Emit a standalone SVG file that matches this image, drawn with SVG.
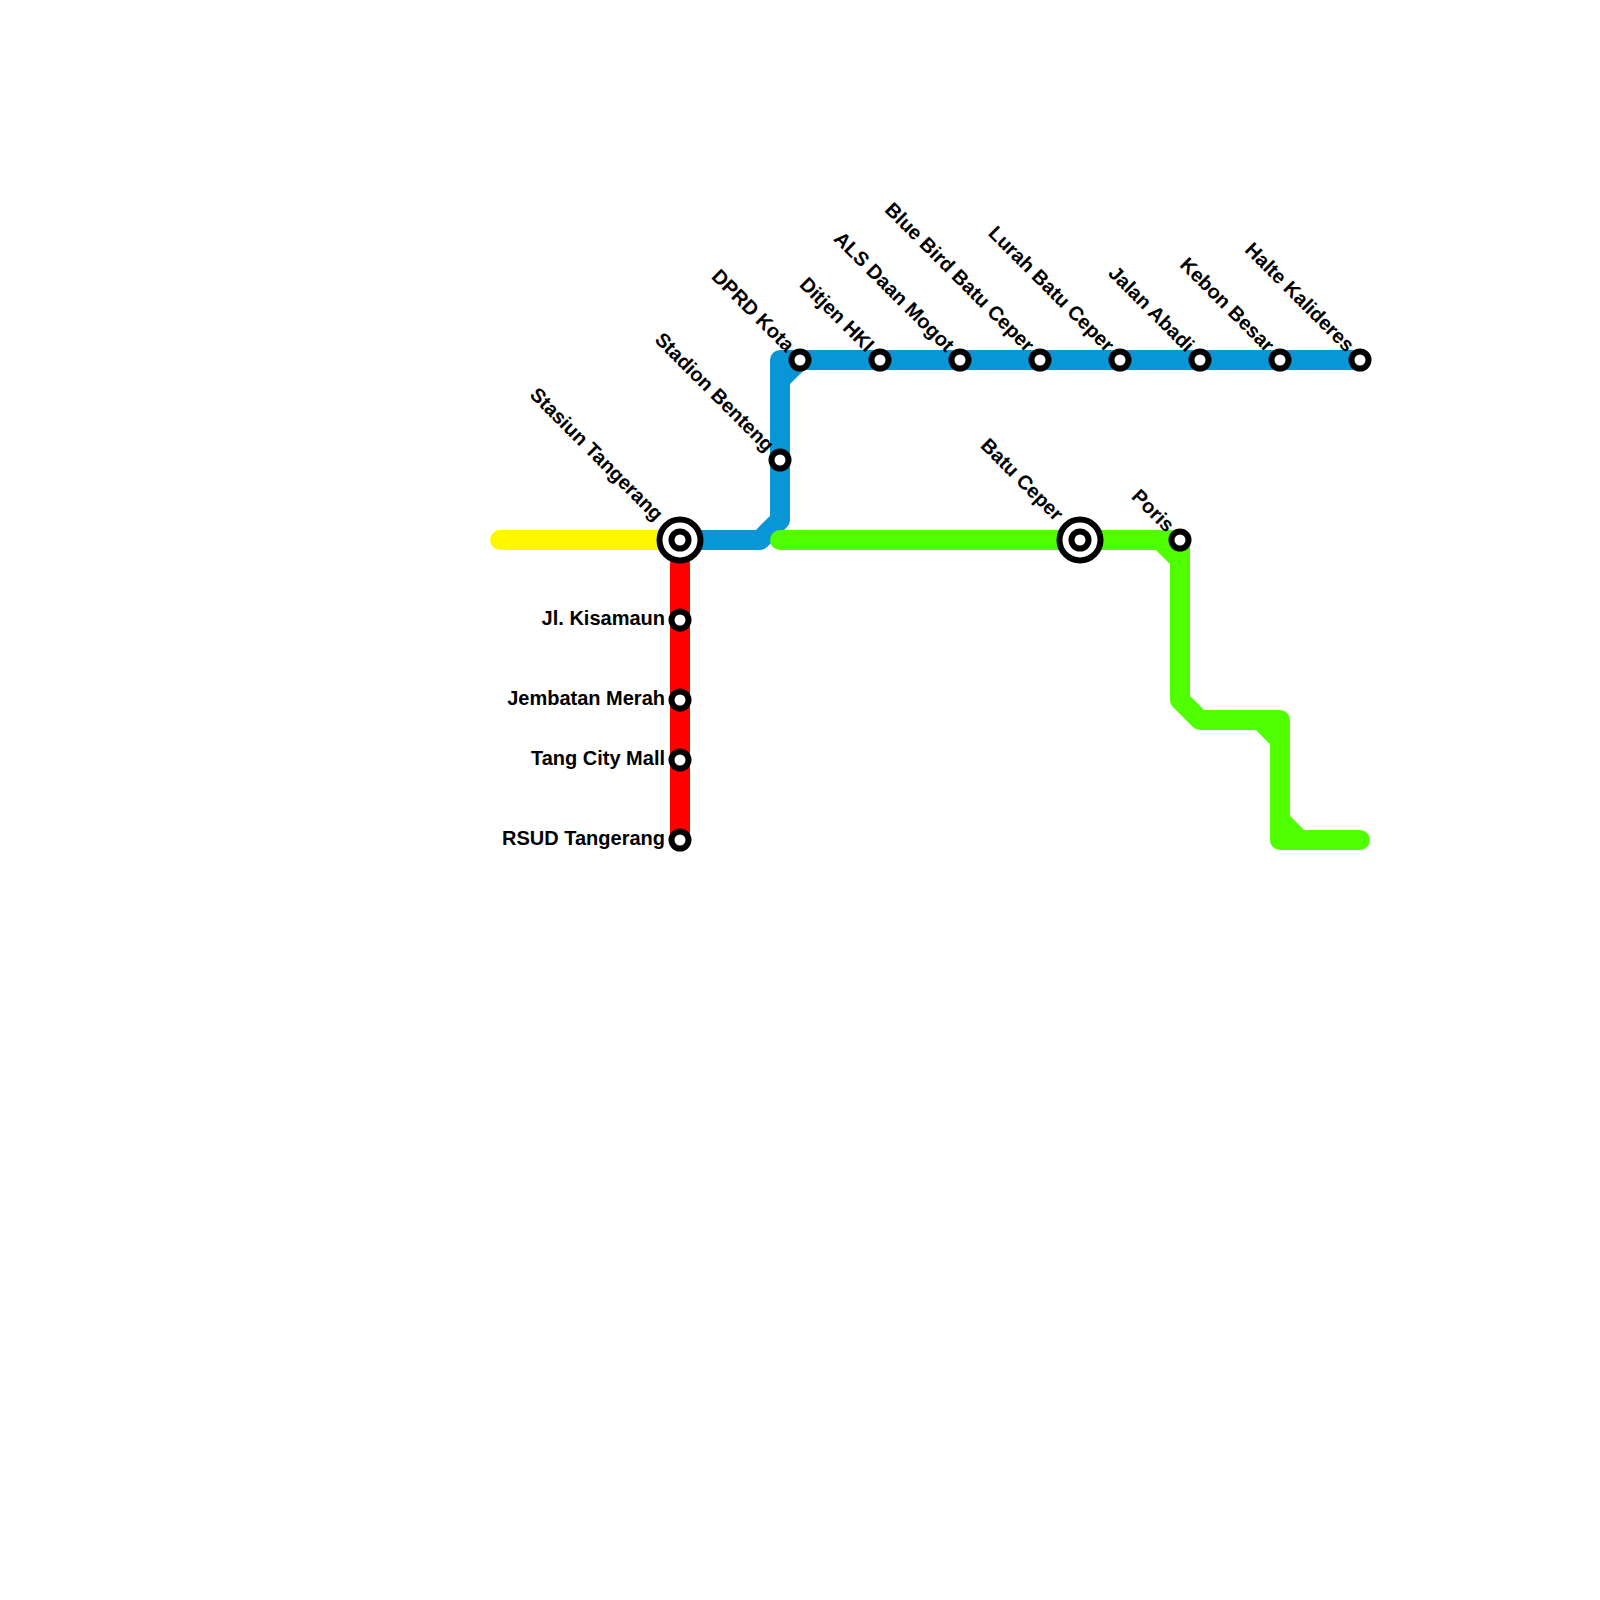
<svg xmlns="http://www.w3.org/2000/svg" width="1600" height="1600" viewBox="0 0 1600 1600">
<style>
.l{fill:none;stroke-width:20;stroke-linecap:round;stroke-linejoin:round}
.s{fill:#fff;stroke:#000;stroke-width:6}
.r{fill:#fff;stroke:#000;stroke-width:6}
text{font-family:"Liberation Sans",Arial,sans-serif;font-size:20px;font-weight:700;fill:#000;text-anchor:end}
</style>
<rect width="1600" height="1600" fill="#fff"/>
<g id="connectors">
<path class="l" stroke="#fff700" d="M500 540H680"/>
<path class="l" stroke="#ff0000" d="M680 540V840"/>
<path class="l" stroke="#0896d7" d="M680 540H760L780 520V360H1360M780 380L800 360"/>
<path class="l" stroke="#4fff00" d="M780 540H1180V700L1200 720H1280V840H1360M1160 540L1180 560M1260 720L1280 740M1280 820L1300 840"/>
</g>
<g id="n1"><circle class="r" cx="680" cy="540" r="20.5"/><circle class="s" cx="680" cy="540" r="8.5"/><text transform="translate(655 522) rotate(45)">Stasiun Tangerang</text></g>
<g id="n2"><circle class="s" cx="680" cy="620" r="8.5"/><text x="665" y="625">Jl. Kisamaun</text></g>
<g id="n3"><circle class="s" cx="680" cy="700" r="8.5"/><text x="665" y="705">Jembatan Merah</text></g>
<g id="n4"><circle class="s" cx="680" cy="760" r="8.5"/><text x="665" y="765">Tang City Mall</text></g>
<g id="n5"><circle class="s" cx="680" cy="840" r="8.5"/><text x="665" y="845">RSUD Tangerang</text></g>
<g id="n6"><circle class="s" cx="780" cy="460" r="8.5"/><text transform="translate(766 453) rotate(45)">Stadion Benteng</text></g>
<g id="n7"><circle class="s" cx="800" cy="360" r="8.5"/><text transform="translate(786 353) rotate(45)">DPRD Kota</text></g>
<g id="n8"><circle class="s" cx="880" cy="360" r="8.5"/><text transform="translate(866 353) rotate(45)">Ditjen HKI</text></g>
<g id="n9"><circle class="s" cx="960" cy="360" r="8.5"/><text transform="translate(946 353) rotate(45)">ALS Daan Mogot</text></g>
<g id="n10"><circle class="s" cx="1040" cy="360" r="8.5"/><text transform="translate(1026 353) rotate(45)">Blue Bird Batu Ceper</text></g>
<g id="n11"><circle class="s" cx="1120" cy="360" r="8.5"/><text transform="translate(1106 353) rotate(45)">Lurah Batu Ceper</text></g>
<g id="n12"><circle class="s" cx="1200" cy="360" r="8.5"/><text transform="translate(1186 353) rotate(45)">Jalan Abadi</text></g>
<g id="n13"><circle class="s" cx="1280" cy="360" r="8.5"/><text transform="translate(1266 353) rotate(45)">Kebon Besar</text></g>
<g id="n14"><circle class="s" cx="1360" cy="360" r="8.5"/><text transform="translate(1346 353) rotate(45)">Halte Kalideres</text></g>
<g id="n15"><circle class="r" cx="1080" cy="540" r="20.5"/><circle class="s" cx="1080" cy="540" r="8.5"/><text transform="translate(1055 522) rotate(45)">Batu Ceper</text></g>
<g id="n16"><circle class="s" cx="1180" cy="540" r="8.5"/><text transform="translate(1166 533) rotate(45)">Poris</text></g>
</svg>
